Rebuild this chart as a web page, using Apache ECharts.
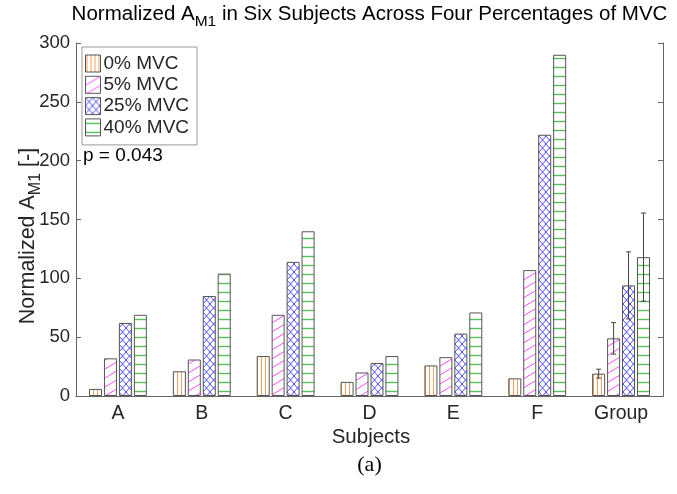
<!DOCTYPE html>
<html>
<head>
<meta charset="utf-8">
<script src="https://cdn.jsdelivr.net/npm/echarts@6/dist/echarts.min.js"></script>
<style>html,body{margin:0;padding:0;background:#fff}#c{width:677px;height:494px}</style>
</head>
<body>
<div id="c"></div>
<script>
const categories = ['A', 'B', 'C', 'D', 'E', 'F', 'Group'];
const seriesNames = ['0% MVC', '5% MVC', '25% MVC', '40% MVC'];
const mvc0 = [6, 21, 34, 12, 26, 15, 19];
const mvc5 = [32, 31, 69, 20, 33, 107, 49];
const mvc25 = [62, 85, 114, 28, 53, 222, 94];
const mvc40 = [69, 104, 140, 34, 71, 290, 118];
const groupErr = [3.8, 13.4, 28.5, 37.5];
const yMin = 0, yMax = 300, yStep = 50;

const FONT = 'Liberation Sans';
const BAR_W = 13, BAR_GAP = 0.15;
const PITCH = BAR_W * (1 + BAR_GAP);

function pattern(kind) {
  const c = document.createElement('canvas');
  let w, h;
  if (kind === 0) { w = 4; h = 4; }
  else if (kind === 1) { w = 15; h = 9; }
  else if (kind === 2) { w = 7; h = 8; }
  else { w = 8; h = 9; }
  c.width = w; c.height = h;
  const g = c.getContext('2d');
  g.fillStyle = '#fff'; g.fillRect(0, 0, w, h);
  g.beginPath();
  if (kind === 0) {
    g.strokeStyle = '#f5a05a'; g.lineWidth = 1;
    g.moveTo(1.5, 0); g.lineTo(1.5, h);
  } else if (kind === 1) {
    g.strokeStyle = '#ff4cff'; g.lineWidth = 1;
    for (let k = -1; k <= 1; k++) {
      g.moveTo(-w, 2 * h + k * h); g.lineTo(2 * w, -h + k * h);
    }
  } else if (kind === 2) {
    g.strokeStyle = '#3a3aff'; g.lineWidth = 0.9;
    g.moveTo(0, 0); g.lineTo(w, h);
    g.moveTo(w, 0); g.lineTo(0, h);
  } else {
    g.strokeStyle = '#56c256'; g.lineWidth = 1.4;
    g.moveTo(0, 4.5); g.lineTo(w, 4.5);
  }
  g.stroke();
  return { image: c, repeat: 'repeat' };
}

const values = [mvc0, mvc5, mvc25, mvc40];
const chart = echarts.init(document.getElementById('c'), null, { renderer: 'canvas' });

const barSeries = values.map((arr, i) => ({
  name: seriesNames[i],
  type: 'bar',
  data: arr,
  barWidth: BAR_W,
  barGap: (BAR_GAP * 100) + '%',
  itemStyle: { color: pattern(i), borderColor: '#555', borderWidth: 1 },
  emphasis: { disabled: true },
  animation: false
}));

const errData = groupErr.map((e, i) => [categories.length - 1, values[i][categories.length - 1], e, i]);

const errSeries = {
  type: 'custom',
  data: errData,
  silent: true,
  animation: false,
  z: 10,
  renderItem: function (params, api) {
    const idx = api.value(0), v = api.value(1), e = api.value(2), k = api.value(3);
    const x = api.coord([idx, v])[0] + (k - 1.5) * PITCH;
    const yt = api.coord([idx, v + e])[1];
    const yb = api.coord([idx, v - e])[1];
    const st = { stroke: '#444', lineWidth: 1 };
    return {
      type: 'group',
      children: [
        { type: 'line', shape: { x1: x, y1: yt, x2: x, y2: yb }, style: st },
        { type: 'line', shape: { x1: x - 2.5, y1: yt, x2: x + 2.5, y2: yt }, style: st },
        { type: 'line', shape: { x1: x - 2.5, y1: yb, x2: x + 2.5, y2: yb }, style: st }
      ]
    };
  }
};

const axisLineStyle = { color: '#666', width: 1 };
const labelColor = '#262626';

const option = {
  backgroundColor: '#fff',
  animation: false,
  grid: { left: 76, right: 14, top: 43, bottom: 98, containLabel: false },
  legend: {
    orient: 'vertical',
    left: 82, top: 47,
    data: seriesNames.map((n, i) => ({ name: n, itemStyle: { color: pattern(i), borderColor: '#555', borderWidth: 1 } })),
    itemWidth: 15, itemHeight: 17, itemGap: 2.3,
    icon: 'rect',
    padding: [7, 8, 8, 3],
    borderColor: '#999', borderWidth: 1, backgroundColor: '#fff',
    textStyle: { fontFamily: FONT, fontSize: 19, lineHeight: 17, color: labelColor, padding: [0, 0, 0, -2] },
    selectedMode: false
  },
  xAxis: [{
    type: 'category', data: categories, position: 'bottom',
    axisLine: { lineStyle: axisLineStyle },
    axisTick: { inside: true, alignWithLabel: true, length: 5, lineStyle: axisLineStyle },
    axisLabel: { fontFamily: FONT, fontSize: 19.5, color: labelColor, margin: 8 }
  }, {
    type: 'category', data: categories, position: 'top',
    axisLine: { lineStyle: axisLineStyle },
    axisTick: { inside: true, alignWithLabel: true, length: 5, lineStyle: axisLineStyle },
    axisLabel: { show: false }
  }],
  yAxis: [{
    type: 'value', min: yMin, max: yMax, interval: yStep, position: 'left',
    axisLine: { show: true, lineStyle: axisLineStyle },
    axisTick: { show: true, inside: true, length: 5, lineStyle: axisLineStyle },
    axisLabel: { fontFamily: FONT, fontSize: 18.5, color: labelColor, margin: 6 },
    splitLine: { show: false }
  }, {
    type: 'value', min: yMin, max: yMax, interval: yStep, position: 'right',
    axisLine: { show: true, lineStyle: axisLineStyle },
    axisTick: { show: true, inside: true, length: 5, lineStyle: axisLineStyle },
    axisLabel: { show: false },
    splitLine: { show: false }
  }],
  series: barSeries.concat([errSeries]),
  graphic: [
    {
      type: 'text', x: 369.5, y: 14,
      style: {
        text: '{a|Normalized A}{s|M1}{a| in Six Subjects Across Four Percentages of MVC}',
        align: 'center', verticalAlign: 'middle',
        rich: {
          a: { fontFamily: FONT, fontSize: 20.5, fill: '#000' },
          s: { fontFamily: FONT, fontSize: 15.5, fill: '#000', padding: [16, 0, 0, 0] }
        }
      }
    },
    {
      type: 'text', x: 28, y: 236, rotation: Math.PI / 2,
      style: {
        text: '{a|Normalized A}{s|M1}{a| [-]}',
        align: 'center', verticalAlign: 'middle',
        rich: {
          a: { fontFamily: FONT, fontSize: 21.5, fill: labelColor },
          s: { fontFamily: FONT, fontSize: 16, fill: labelColor, padding: [16, 0, 0, 0] }
        }
      }
    },
    {
      type: 'text', x: 371, y: 437,
      style: { text: 'Subjects', fontFamily: FONT, fontSize: 20.5, fill: labelColor, align: 'center', verticalAlign: 'middle' }
    },
    {
      type: 'text', x: 83, y: 156,
      style: { text: 'p = 0.043', fontFamily: FONT, fontSize: 19, fill: '#000', align: 'left', verticalAlign: 'middle' }
    },
    {
      type: 'text', x: 369.5, y: 465,
      style: { text: '(a)', fontFamily: 'Liberation Serif', fontSize: 22, fill: '#000', align: 'center', verticalAlign: 'middle' }
    }
  ]
};
chart.setOption(option);
</script>
</body>
</html>
